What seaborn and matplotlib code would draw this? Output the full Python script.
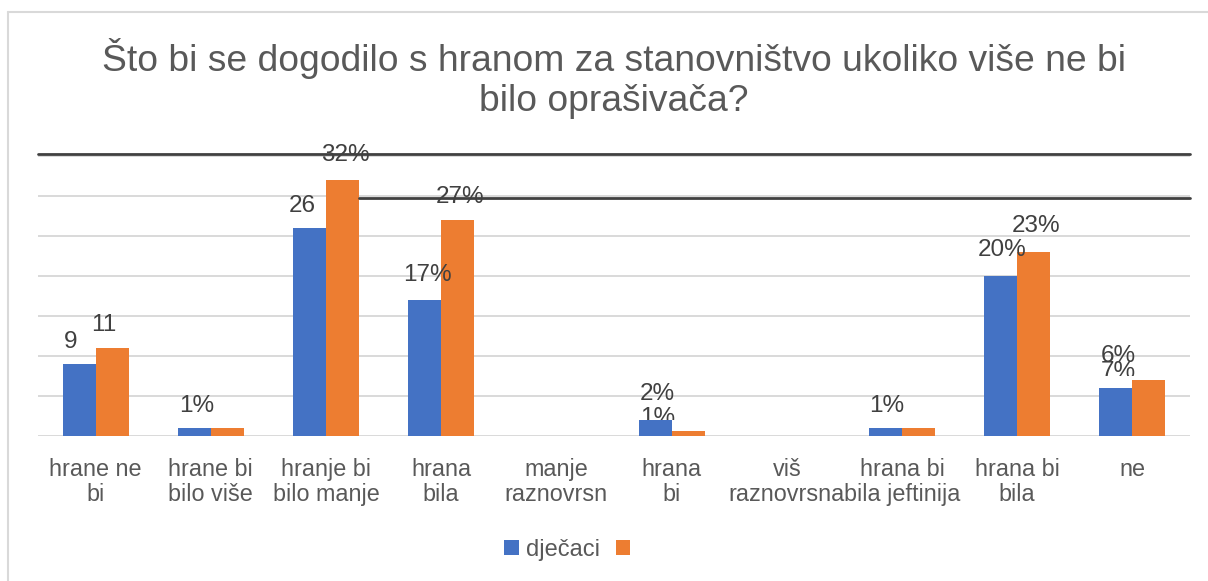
import matplotlib
matplotlib.use("Agg")
import matplotlib.pyplot as plt
import seaborn as sns
import pandas as pd
from matplotlib.patches import Patch
from matplotlib.lines import Line2D
from matplotlib.transforms import Bbox, TransformedBbox

# ---------------- data ----------------
categories = ["hrane ne\nbi", "hrane bi\nbilo više", "hranje bi\nbilo manje", "hrana\nbila",
              "manje\nraznovrsn", "hrana\nbi", "viš\nraznovrsna", "hrana bi\nbila jeftinija",
              "hrana bi\nbila", "ne"]
series = ["dječaci", ""]
boys = [9, 1, 26, 17, 0, 2, 0, 1, 20, 6]
other = [11, 1, 32, 27, 0, 0.6, 0, 1, 23, 7]
boys_labels = ["9", "1%", "26", "17%", "", "2%", "", "1%", "20%", "6%"]
other_labels = ["11", "", "32%", "27%", "", "1%", "", "", "23%", "7%"]
title = "Što bi se dogodilo s hranom za stanovništvo ukoliko više ne bi\nbilo oprašivača?"

# label placement (style): x offset in category units, y offset above bar top
boys_dx = [-0.217, -0.123, -0.203, -0.118, 0, -0.122, 0, -0.134, -0.127, -0.12]
boys_dy = [2.8, 2.8, 2.75, 3.1, 0, 3.2, 0, 2.75, 3.25, 4.05]
other_dx = [0.069, 0, 0.170, 0.168, 0, -0.122, 0, 0, 0.168, -0.12]
other_dy = [2.85, 0, 3.1, 2.85, 0, 1.65, 0, 0, 3.25, 1.05]
other_clip = [None, None, None, None, None, 2.0, None, None, None, 7.55]

BLUE = "#4472C4"
ORANGE = "#ED7D31"
GRID = "#D9D9D9"
TXT = "#595959"
LBL = "#404040"

sns.set_style("white")
plt.rcParams["font.family"] = ["Liberation Sans", "DejaVu Sans"]

W, H = 1208, 581
fig = plt.figure(figsize=(W / 100, H / 100), dpi=100)
ax = fig.add_axes([38 / W, 145 / H, 1152 / W, 280 / H])

df = pd.DataFrame({
    "kategorija": categories * 2,
    "serija": [series[0]] * len(categories) + [series[1]] * len(categories),
    "vrijednost": boys + other,
})

sns.barplot(data=df, x="kategorija", y="vrijednost", hue="serija", hue_order=series,
            order=categories, palette=[BLUE, ORANGE], width=0.573, linewidth=0,
            saturation=1, legend=False, ax=ax, zorder=3, errorbar=None)

ax.set_xlim(-0.5, len(categories) - 0.5)
ax.set_ylim(0, 35)
ax.set_yticks(range(0, 36, 5))
ax.set_yticklabels([])
ax.yaxis.grid(True, color=GRID, linewidth=1.4, zorder=0)
ax.set_axisbelow(True)
for s in ax.spines.values():
    s.set_visible(False)
ax.set_xlabel("")
ax.set_ylabel("")
ax.tick_params(axis="x", length=0, pad=15.5, labelsize=16.8, labelcolor=TXT)
ax.tick_params(axis="y", length=0)
for lab in ax.get_xticklabels():
    lab.set_linespacing(1.15)

# data labels
for i in range(len(categories)):
    if boys_labels[i]:
        ax.text(i + boys_dx[i], boys[i] + boys_dy[i], boys_labels[i], ha="center", va="center",
                fontsize=17.5, color=LBL, zorder=4)
    if other_labels[i]:
        t = ax.text(i + other_dx[i], other[i] + other_dy[i], other_labels[i], ha="center",
                    va="center", fontsize=17.5, color=LBL, zorder=2)
        if other_clip[i] is not None:
            t.set_clip_box(TransformedBbox(Bbox([[-1, other_clip[i]], [11, 60]]), ax.transData))
            t.set_clip_on(True)
        else:
            t.set_clip_on(False)
            t.set_zorder(4)

# stray dark lines present in the original
ax.plot([-0.5, len(categories) - 0.5], [35.25, 35.25], color="#404040", lw=2, clip_on=False, zorder=5)
ax.plot([2.283, len(categories) - 0.5], [29.75, 29.75], color="#404040", lw=2, clip_on=False, zorder=5)

# title
fig.text(614 / W, 1 - 38 / H, title, ha="center", va="top", fontsize=26.8, color=TXT, linespacing=1.2)

# legend
handles = [Patch(facecolor=BLUE, edgecolor="none"), Patch(facecolor=ORANGE, edgecolor="none")]
fig.legend(handles=handles, labels=series, loc="center", bbox_to_anchor=(571 / W, 1 - 550 / H),
           ncol=2, frameon=False, handlelength=0.6, handleheight=0.6, handletextpad=0.3,
           columnspacing=0.7, fontsize=17, labelcolor=TXT)

# chart border (top and left)
fig.add_artist(Line2D([8 / W, 8 / W], [0, 1 - 12 / H], transform=fig.transFigure, color=GRID, lw=1.5))
fig.add_artist(Line2D([8 / W, 1], [1 - 12 / H, 1 - 12 / H], transform=fig.transFigure, color=GRID, lw=1.5))

fig.savefig("out.png", dpi=100)
